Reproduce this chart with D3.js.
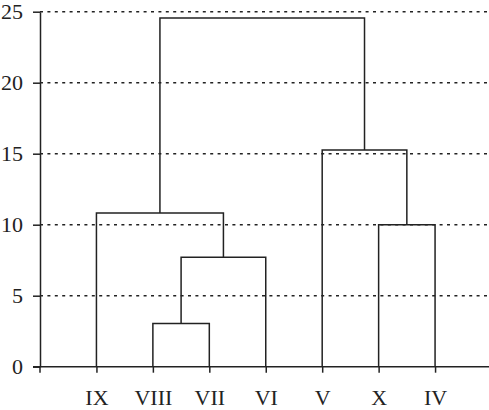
<!DOCTYPE html>
<html>
<head>
<meta charset="utf-8">
<script src="https://cdn.jsdelivr.net/npm/d3@7"></script>
<style>
  body { margin: 0; background: #fff; }
  text { font-family: "Liberation Serif", "Times New Roman", serif; }
</style>
</head>
<body>
<script>
// leaf order along the x axis
var leaves = ["IX", "VIII", "VII", "VI", "V", "X", "IV"];

// linkage: [child a, child b, height]; leaves are 0..6, each merge gets the next id (7, 8, ...)
var merges = [
  [1, 2, 3.05],
  [7, 3, 7.7],
  [0, 8, 10.82],
  [5, 6, 10.0],
  [4, 10, 15.26],
  [9, 11, 24.56]
];

var yTicks = [0, 5, 10, 15, 20, 25];

var w = 489, h = 410;
var svg = d3.select("body").append("svg")
    .attr("width", w)
    .attr("height", h);

var x = d3.scalePoint()
    .domain(leaves)
    .range([40, 491.5])
    .padding(1);

var y = d3.scaleLinear()
    .domain([0, 25])
    .range([366.7, 11.7]);

// dotted gridlines
svg.append("g")
  .selectAll("line")
  .data(yTicks.filter(function(d) { return d > 0; }))
  .enter().append("line")
    .attr("x1", 40)
    .attr("x2", w)
    .attr("y1", function(d) { return y(d); })
    .attr("y2", function(d) { return y(d); })
    .attr("stroke", "#222")
    .attr("stroke-width", 1.4)
    .attr("stroke-dasharray", "3,4.4");

// node positions: leaves at the bottom, merges centred over their children
var nodes = leaves.map(function(d) { return {x: x(d), h: 0}; });
merges.forEach(function(m) {
  var a = nodes[m[0]], b = nodes[m[1]];
  nodes.push({x: (a.x + b.x) / 2, h: m[2], a: a, b: b});
});

var links = svg.append("g")
    .attr("fill", "none")
    .attr("stroke", "#222")
    .attr("stroke-width", 1.5);

links.selectAll("path")
  .data(nodes.filter(function(d) { return d.a; }))
  .enter().append("path")
    .attr("d", function(d) {
      return "M" + d.a.x + "," + y(d.a.h) +
             "V" + y(d.h) +
             "H" + d.b.x +
             "V" + y(d.b.h);
    });

// axes
var yAxis = svg.append("g")
    .attr("transform", "translate(40,0)")
    .call(d3.axisLeft(y).tickValues(yTicks).tickSize(7).tickPadding(10).tickSizeOuter(0));

var xAxis = svg.append("g")
    .attr("transform", "translate(0," + y(0) + ")")
    .call(d3.axisBottom(x).tickSize(6).tickPadding(17).tickSizeOuter(0));

xAxis.select(".domain").attr("d", "M33,0H" + w);

// extra tick at the origin
xAxis.append("line")
    .attr("x1", 40).attr("x2", 40)
    .attr("y1", 0).attr("y2", 6)
    .attr("stroke", "#222")
    .attr("stroke-width", 1.5);

svg.selectAll(".domain, .tick line")
    .attr("stroke", "#222")
    .attr("stroke-width", 1.5);

svg.selectAll(".tick text")
    .attr("fill", "#222")
    .style("font-size", "22px")
    .style("font-family", "'Liberation Serif', serif");
</script>
</body>
</html>
